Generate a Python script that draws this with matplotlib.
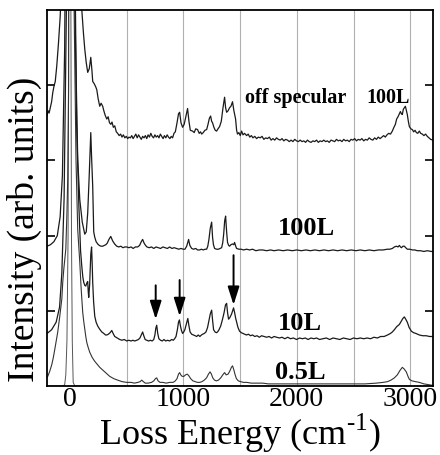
import matplotlib
matplotlib.use("Agg")
import matplotlib.pyplot as plt

plt.rcParams['font.family'] = ['Liberation Serif', 'DejaVu Serif']
plt.rcParams['mathtext.fontset'] = 'custom'
plt.rcParams['mathtext.rm'] = 'Liberation Serif'

# off specular, 100L (top trace)
offspec_x = [-200, -190, -182, -172, -160, -150, -140, -128, -115, -100,
             -85, -70, -40, 0, 50, 90, 106, 120, 132, 145,
             158, 172, 185, 195, 202, 215, 228, 238, 250, 264,
             276, 290, 300, 312, 326, 338, 350, 362, 372, 384,
             396, 410, 422, 435, 448, 460, 472, 485, 498, 510,
             522, 534, 546, 558, 570, 582, 594, 606, 618, 630,
             642, 654, 666, 678, 690, 702, 714, 726, 738, 750,
             762, 774, 786, 798, 810, 822, 834, 846, 858, 870,
             882, 894, 906, 918, 930, 945, 958, 968, 980, 994,
             1008, 1022, 1038, 1050, 1062, 1082, 1096, 1110, 1126, 1140,
             1152, 1162, 1176, 1190, 1206, 1218, 1230, 1241, 1250, 1258,
             1270, 1282, 1294, 1306, 1320, 1335, 1350, 1364, 1373, 1382,
             1395, 1408, 1420, 1434, 1446, 1461, 1470, 1478, 1490, 1502,
             1514, 1526, 1540, 1558, 1572, 1586, 1600, 1614, 1630, 1646,
             1662, 1678, 1694, 1710, 1726, 1742, 1758, 1774, 1790, 1806,
             1822, 1838, 1854, 1870, 1886, 1902, 1918, 1934, 1950, 1966,
             1982, 1998, 2014, 2030, 2046, 2062, 2078, 2094, 2110, 2126,
             2142, 2158, 2174, 2190, 2206, 2222, 2238, 2254, 2270, 2286,
             2302, 2318, 2334, 2350, 2366, 2382, 2398, 2414, 2430, 2446,
             2462, 2478, 2494, 2510, 2526, 2542, 2558, 2574, 2590, 2606,
             2622, 2638, 2654, 2670, 2686, 2702, 2718, 2734, 2750, 2766,
             2780, 2795, 2810, 2826, 2842, 2856, 2869, 2880, 2892, 2904,
             2913, 2922, 2930, 2939, 2948, 2957, 2966, 2974, 2983, 2992,
             3005, 3018, 3030, 3042, 3054, 3066, 3080, 3092, 3106, 3120,
             3135, 3150, 3165, 3180, 3200]
offspec_y = [3.60, 3.66, 3.63, 3.70, 3.78, 3.90, 3.98, 4.05, 4.25, 4.55,
             4.90, 5.40, 8.0, 30.0, 8.0, 5.6, 5.0, 4.70, 4.48, 4.30,
             4.17, 4.22, 4.37, 4.20, 4.05, 4.02, 3.98, 3.94, 3.82, 3.72,
             3.76, 3.72, 3.66, 3.60, 3.55, 3.58, 3.50, 3.48, 3.51, 3.44,
             3.46, 3.38, 3.36, 3.33, 3.35, 3.31, 3.34, 3.30, 3.32, 3.29,
             3.31, 3.30, 3.33, 3.29, 3.32, 3.35, 3.30, 3.34, 3.31, 3.28,
             3.32, 3.30, 3.33, 3.29, 3.34, 3.31, 3.36, 3.32, 3.30, 3.34,
             3.31, 3.33, 3.30, 3.35, 3.32, 3.29, 3.33, 3.30, 3.34, 3.31,
             3.29, 3.32, 3.30, 3.36, 3.38, 3.50, 3.62, 3.64, 3.50, 3.44,
             3.48, 3.58, 3.69, 3.52, 3.40, 3.39, 3.37, 3.42, 3.41, 3.36,
             3.38, 3.35, 3.37, 3.40, 3.41, 3.48, 3.56, 3.59, 3.52, 3.50,
             3.44, 3.40, 3.39, 3.42, 3.45, 3.52, 3.70, 3.84, 3.70, 3.64,
             3.66, 3.70, 3.72, 3.78, 3.66, 3.55, 3.40, 3.35, 3.37, 3.33,
             3.39, 3.34, 3.36, 3.33, 3.35, 3.31, 3.33, 3.30, 3.32, 3.29,
             3.31, 3.30, 3.32, 3.28, 3.30, 3.29, 3.31, 3.27, 3.29, 3.27,
             3.30, 3.28, 3.27, 3.29, 3.26, 3.28, 3.27, 3.25, 3.27, 3.25,
             3.28, 3.26, 3.25, 3.27, 3.25, 3.26, 3.24, 3.27, 3.25, 3.24,
             3.26, 3.25, 3.27, 3.24, 3.26, 3.25, 3.27, 3.25, 3.26, 3.24,
             3.27, 3.26, 3.25, 3.28, 3.26, 3.27, 3.25, 3.28, 3.26, 3.27,
             3.25, 3.28, 3.27, 3.29, 3.26, 3.28, 3.27, 3.29, 3.26, 3.28,
             3.27, 3.30, 3.28, 3.27, 3.30, 3.28, 3.31, 3.29, 3.31, 3.33,
             3.31, 3.34, 3.36, 3.35, 3.39, 3.44, 3.48, 3.55, 3.58, 3.62,
             3.65, 3.62, 3.61, 3.68, 3.70, 3.72, 3.66, 3.61, 3.52, 3.45,
             3.42, 3.41, 3.38, 3.40, 3.37, 3.36, 3.39, 3.36, 3.35, 3.33,
             3.35, 3.32, 3.30, 3.28, 3.27]

# 100L specular
l100_x = [-200, -170, -140, -110, -85, -65, -45, -25, 0, 30,
          50, 70, 88, 110, 132, 145, 158, 170, 178, 185,
          192, 202, 211, 220, 232, 246, 260, 275, 290, 305,
          318, 330, 345, 361, 370, 378, 395, 414, 432, 450,
          468, 486, 502, 520, 540, 558, 578, 598, 615, 630,
          642, 655, 668, 680, 700, 720, 740, 760, 780, 800,
          820, 840, 860, 880, 900, 920, 940, 960, 980, 1000,
          1015, 1030, 1047, 1058, 1074, 1090, 1110, 1126, 1144, 1160,
          1176, 1192, 1206, 1216, 1226, 1238, 1250, 1258, 1266, 1276,
          1292, 1310, 1325, 1338, 1348, 1356, 1365, 1373, 1382, 1390,
          1400, 1408, 1420, 1434, 1445, 1452, 1462, 1470, 1490, 1510,
          1530, 1558, 1585, 1610, 1640, 1670, 1700, 1734, 1770, 1800,
          1840, 1880, 1920, 1960, 2000, 2040, 2080, 2120, 2160, 2200,
          2240, 2280, 2320, 2360, 2400, 2440, 2480, 2520, 2560, 2600,
          2640, 2680, 2720, 2760, 2798, 2820, 2842, 2860, 2878, 2892,
          2904, 2914, 2922, 2936, 2948, 2960, 2974, 2995, 3020, 3040,
          3062, 3090, 3120, 3150, 3186, 3200]
l100_y = [1.86, 1.88, 1.92, 2.00, 2.25, 2.80, 4.50, 9.0, 30.0, 7.0,
          4.60, 3.01, 2.48, 2.18, 2.02, 2.05, 2.30, 2.75, 3.10, 3.37,
          3.05, 2.66, 2.05, 1.98, 1.92, 1.89, 1.87, 1.86, 1.86, 1.87,
          1.88, 1.90, 1.95, 1.99, 1.96, 1.93, 1.89, 1.86, 1.85, 1.86,
          1.84, 1.85, 1.85, 1.84, 1.85, 1.83, 1.85, 1.85, 1.87, 1.92,
          1.95, 1.90, 1.87, 1.85, 1.84, 1.85, 1.83, 1.85, 1.84, 1.83,
          1.85, 1.84, 1.83, 1.85, 1.83, 1.84, 1.83, 1.82, 1.83, 1.82,
          1.82, 1.86, 1.95, 1.87, 1.83, 1.82, 1.83, 1.81, 1.81, 1.82,
          1.81, 1.82, 1.82, 1.86, 1.95, 2.10, 2.18, 1.98, 1.88, 1.83,
          1.82, 1.82, 1.83, 1.84, 1.91, 2.02, 2.20, 2.26, 2.05, 1.91,
          1.87, 1.86, 1.88, 1.89, 1.88, 1.91, 1.86, 1.83, 1.82, 1.82,
          1.81, 1.82, 1.81, 1.82, 1.80, 1.81, 1.81, 1.80, 1.81, 1.80,
          1.81, 1.80, 1.81, 1.80, 1.81, 1.80, 1.81, 1.80, 1.81, 1.80,
          1.81, 1.80, 1.81, 1.80, 1.81, 1.80, 1.81, 1.80, 1.81, 1.80,
          1.81, 1.80, 1.81, 1.81, 1.82, 1.82, 1.83, 1.85, 1.86, 1.85,
          1.87, 1.85, 1.84, 1.86, 1.86, 1.84, 1.82, 1.82, 1.81, 1.81,
          1.80, 1.80, 1.79, 1.80, 1.79, 1.79]

# 10L specular
l10_x = [-200, -160, -120, -90, -70, -50, -30, 0, 30, 60,
         80, 95, 106, 115, 123, 132, 141, 150, 158, 163,
         167, 175, 185, 192, 198, 202, 210, 220, 232, 246,
         262, 282, 300, 315, 326, 340, 355, 370, 382, 396,
         418, 440, 460, 480, 502, 520, 540, 556, 572, 590,
         605, 618, 630, 642, 652, 664, 678, 695, 710, 726,
         740, 750, 758, 766, 775, 785, 800, 815, 830, 845,
         862, 880, 898, 912, 924, 936, 948, 958, 966, 975,
         984, 994, 1004, 1014, 1026, 1040, 1050, 1060, 1074, 1090,
         1105, 1118, 1132, 1146, 1160, 1170, 1185, 1200, 1214, 1226,
         1238, 1250, 1258, 1267, 1280, 1292, 1302, 1315, 1330, 1346,
         1360, 1372, 1382, 1390, 1399, 1410, 1426, 1436, 1443, 1452,
         1462, 1470, 1482, 1496, 1512, 1526, 1540, 1556, 1575, 1592,
         1610, 1630, 1650, 1670, 1690, 1712, 1734, 1756, 1778, 1800,
         1822, 1848, 1870, 1895, 1920, 1945, 1970, 1998, 2025, 2050,
         2075, 2100, 2125, 2150, 2175, 2200, 2230, 2260, 2290, 2320,
         2350, 2380, 2410, 2440, 2470, 2500, 2530, 2560, 2590, 2620,
         2650, 2680, 2710, 2740, 2770, 2800, 2825, 2842, 2860, 2880,
         2904, 2920, 2935, 2948, 2960, 2974, 2990, 3010, 3030, 3050,
         3080, 3110, 3140, 3170, 3200]
l10_y = [0.70, 0.75, 0.85, 1.05, 1.50, 2.50, 5.0, 30.0, 8.0, 3.50,
         2.40, 1.80, 1.59, 1.45, 1.38, 1.34, 1.33, 1.37, 1.39, 1.25,
         1.18, 1.35, 1.75, 1.85, 1.60, 1.38, 1.12, 0.93, 0.85, 0.80,
         0.76, 0.72, 0.70, 0.68, 0.68, 0.69, 0.71, 0.74, 0.70, 0.66,
         0.64, 0.62, 0.61, 0.62, 0.60, 0.61, 0.60, 0.61, 0.60, 0.61,
         0.62, 0.64, 0.68, 0.72, 0.67, 0.62, 0.61, 0.60, 0.61, 0.60,
         0.62, 0.68, 0.77, 0.81, 0.70, 0.63, 0.61, 0.60, 0.62, 0.60,
         0.61, 0.60, 0.62, 0.61, 0.63, 0.66, 0.75, 0.85, 0.88, 0.80,
         0.74, 0.70, 0.72, 0.75, 0.82, 0.90, 0.80, 0.72, 0.69, 0.68,
         0.67, 0.66, 0.68, 0.66, 0.68, 0.69, 0.70, 0.72, 0.78, 0.87,
         0.96, 1.01, 0.88, 0.75, 0.72, 0.71, 0.72, 0.75, 0.80, 0.89,
         0.98, 1.08, 1.10, 0.98, 0.89, 0.91, 0.96, 1.01, 1.04, 0.98,
         0.90, 0.85, 0.78, 0.73, 0.71, 0.70, 0.69, 0.68, 0.69, 0.67,
         0.68, 0.66, 0.67, 0.65, 0.67, 0.66, 0.65, 0.66, 0.64, 0.66,
         0.65, 0.64, 0.65, 0.63, 0.65, 0.63, 0.64, 0.62, 0.64, 0.63,
         0.64, 0.62, 0.64, 0.63, 0.64, 0.62, 0.63, 0.64, 0.62, 0.64,
         0.63, 0.62, 0.64, 0.63, 0.62, 0.64, 0.63, 0.64, 0.63, 0.64,
         0.63, 0.65, 0.64, 0.66, 0.66, 0.68, 0.70, 0.72, 0.75, 0.79,
         0.82, 0.86, 0.90, 0.92, 0.89, 0.85, 0.78, 0.73, 0.71, 0.70,
         0.68, 0.67, 0.67, 0.66, 0.66]

# 0.5L specular
l05_x = [-200, -194, -176, -158, -145, -132, -120, -106, -97, -88,
         -79, -70, -62, -53, -44, -35, -25, -18, -10, 0,
         30, 55, 70, 80, 88, 100, 114, 123, 132, 141,
         150, 163, 176, 198, 220, 242, 264, 286, 308, 330,
         352, 387, 422, 460, 502, 540, 570, 600, 620, 634,
         648, 665, 690, 720, 740, 755, 766, 778, 795, 820,
         850, 880, 910, 930, 945, 958, 968, 978, 990, 1005,
         1020, 1035, 1048, 1065, 1085, 1105, 1125, 1145, 1165, 1185,
         1205, 1222, 1236, 1248, 1260, 1275, 1292, 1310, 1330, 1348,
         1364, 1378, 1395, 1410, 1424, 1434, 1445, 1455, 1468, 1485,
         1505, 1530, 1560, 1600, 1650, 1700, 1750, 1800, 1850, 1900,
         1950, 2000, 2100, 2200, 2300, 2400, 2500, 2600, 2700, 2760,
         2800, 2830, 2860, 2886, 2910, 2930, 2945, 2965, 2980, 2992,
         3015, 3045, 3080, 3120, 3160, 3200]
l05_y = [0.12, 0.13, 0.20, 0.29, 0.38, 0.49, 0.60, 0.72, 0.82, 0.93,
         1.04, 1.16, 1.38, 1.55, 1.69, 1.82, 2.30, 2.75, 4.0, 30.0,
         6.0, 3.0, 2.08, 1.85, 1.65, 1.30, 0.98, 0.86, 0.76, 0.66,
         0.58, 0.51, 0.45, 0.38, 0.33, 0.29, 0.25, 0.22, 0.19, 0.16,
         0.13, 0.10, 0.08, 0.06, 0.05, 0.05, 0.04, 0.05, 0.06, 0.08,
         0.06, 0.04, 0.04, 0.05, 0.07, 0.10, 0.11, 0.07, 0.05, 0.05,
         0.04, 0.05, 0.05, 0.07, 0.10, 0.16, 0.18, 0.15, 0.13, 0.13,
         0.15, 0.16, 0.14, 0.10, 0.07, 0.06, 0.05, 0.05, 0.06, 0.08,
         0.11, 0.16, 0.19, 0.16, 0.11, 0.08, 0.07, 0.08, 0.11, 0.15,
         0.18, 0.15, 0.16, 0.20, 0.25, 0.27, 0.22, 0.16, 0.10, 0.07,
         0.06, 0.05, 0.05, 0.04, 0.04, 0.04, 0.03, 0.03, 0.03, 0.03,
         0.03, 0.03, 0.03, 0.03, 0.03, 0.03, 0.03, 0.03, 0.04, 0.05,
         0.06, 0.08, 0.11, 0.15, 0.21, 0.25, 0.23, 0.19, 0.13, 0.09,
         0.07, 0.06, 0.05, 0.03, 0.02, 0.01]

# narrow elastic peak lying on the bottom axis
elastic_x = [-200, -60, -45, -35, -25, -15, -8, 0, 8, 15, 22, 30, 45, 3200]
elastic_y = [0.0, 0.0, 0.02, 0.15, 0.6, 2.0, 6.0, 30.0, 6.0, 2.0, 0.6, 0.05, 0.0, 0.0]

grid_x = [500, 1000, 1500, 2000, 2500, 3000]
xtick_vals = [0, 1000, 2000, 3000]
ytick_vals = [1, 2, 3, 4]

# (text, x, y, size)
labels = [("off specular", 1540, 3.78, 14.5),
          ("100L", 2613, 3.78, 14.5),
          ("100L", 1830, 2.02, 19),
          ("10L", 1830, 0.76, 19),
          ("0.5L", 1805, 0.11, 19)]

# arrows: x, y_start, y_tip
arrows_x = [757, 968, 1443]
arrows_y0 = [1.34, 1.41, 1.74]
arrows_y1 = [0.89, 0.93, 1.08]

fig = plt.figure(figsize=(4.4, 4.56), dpi=100)
ax = fig.add_axes([0.107, 0.151, 0.877, 0.825])

for gx in grid_x:
    ax.axvline(gx, color='#b0b0b0', lw=0.8, zorder=0)

ax.plot(elastic_x, elastic_y, color='#555555', lw=0.7)
ax.plot(l05_x, l05_y, color='#333333', lw=0.8)
ax.plot(l10_x, l10_y, color='#1a1a1a', lw=0.9)
ax.plot(l100_x, l100_y, color='#1a1a1a', lw=0.9)
ax.plot(offspec_x, offspec_y, color='#1a1a1a', lw=0.9)

for txt, tx, ty, sz in labels:
    ax.text(tx, ty, txt, fontsize=sz, fontweight='bold', ha='left', va='baseline')

for xa, y0, y1 in zip(arrows_x, arrows_y0, arrows_y1):
    ax.annotate('', xy=(xa, y1), xytext=(xa, y0),
                arrowprops=dict(arrowstyle='-|>,head_length=1.1,head_width=0.35',
                                color='black', lw=1.4, mutation_scale=10,
                                shrinkA=0, shrinkB=0))

ax.set_xlim(-200, 3200)
ax.set_ylim(0, 5)
ax.set_xticks(xtick_vals)
ax.set_xticklabels([str(v) for v in xtick_vals], fontsize=20)
ax.set_yticks(ytick_vals)
ax.set_yticklabels([])
ax.tick_params(axis='x', length=0, pad=0)
ax.tick_params(axis='y', direction='in', length=6, width=1.2, left=True, right=True)
for sp in ax.spines.values():
    sp.set_linewidth(1.3)

ax.set_xlabel('Loss Energy (cm$^{\\text{-1}}$)', fontsize=26, labelpad=0)
ax.set_ylabel('Intensity (arb. units)', fontsize=27)
ax.yaxis.set_label_coords(-0.012, 0.42)

plt.savefig('out.png', dpi=100)
